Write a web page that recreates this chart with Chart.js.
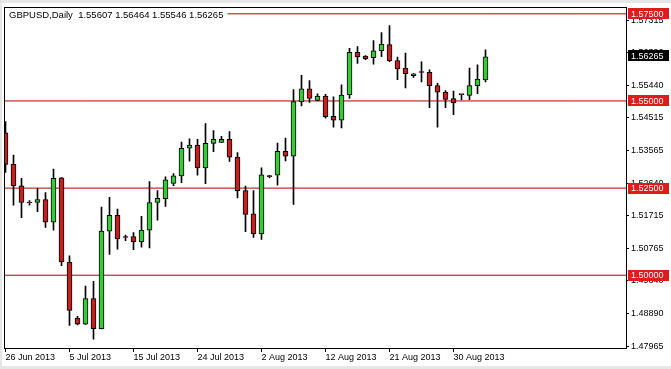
<!DOCTYPE html>
<html>
<head>
<meta charset="utf-8">
<script src="https://cdn.jsdelivr.net/npm/chart.js@4/dist/chart.umd.min.js"></script>
<style>
html,body{margin:0;padding:0;background:#fff;}
canvas{display:block;}
</style>
</head>
<body>
<canvas id="c" width="671" height="369"></canvas>
<script>
// ---- data ----
const symbolTitle = "GBPUSD,Daily";
const dates = ["26 Jun 2013","27 Jun 2013","28 Jun 2013","30 Jun 2013","1 Jul 2013","2 Jul 2013","3 Jul 2013","4 Jul 2013",
  "5 Jul 2013","7 Jul 2013","8 Jul 2013","9 Jul 2013","10 Jul 2013","11 Jul 2013","12 Jul 2013","14 Jul 2013",
  "15 Jul 2013","16 Jul 2013","17 Jul 2013","18 Jul 2013","19 Jul 2013","21 Jul 2013","22 Jul 2013","23 Jul 2013",
  "24 Jul 2013","25 Jul 2013","26 Jul 2013","28 Jul 2013","29 Jul 2013","30 Jul 2013","31 Jul 2013","1 Aug 2013",
  "2 Aug 2013","4 Aug 2013","5 Aug 2013","6 Aug 2013","7 Aug 2013","8 Aug 2013","9 Aug 2013","11 Aug 2013",
  "12 Aug 2013","13 Aug 2013","14 Aug 2013","15 Aug 2013","16 Aug 2013","18 Aug 2013","19 Aug 2013","20 Aug 2013",
  "21 Aug 2013","22 Aug 2013","23 Aug 2013","25 Aug 2013","26 Aug 2013","27 Aug 2013","28 Aug 2013","29 Aug 2013",
  "30 Aug 2013","1 Sep 2013","2 Sep 2013","3 Sep 2013","4 Sep 2013"];
const opens = [1.54084,1.53190,1.52568,1.52080,1.52087,1.52172,1.51522,1.52794,1.50379,1.48767,
  1.48597,1.49333,1.48467,1.51267,1.51720,1.51090,1.51106,1.50956,1.51295,1.52087,
  1.52200,1.52633,1.52851,1.53643,1.53736,1.53077,1.53784,1.53812,1.53897,1.53388,
  1.52427,1.51765,1.51182,1.52835,1.52868,1.53558,1.53416,1.54972,1.55348,1.55017,
  1.55141,1.54556,1.54451,1.55170,1.56394,1.56290,1.56244,1.56442,1.56620,1.56160,
  1.55942,1.55724,1.55823,1.55820,1.55441,1.55255,1.55065,1.55187,1.55158,1.55441,1.55607];
const highs = [1.54406,1.53445,1.52783,1.52144,1.52483,1.52370,1.53049,1.52803,1.50560,1.48824,
  1.49692,1.49825,1.51954,1.52237,1.51898,1.51154,1.51227,1.51691,1.52690,1.52427,
  1.52822,1.52916,1.53821,1.53914,1.53897,1.54350,1.54152,1.53982,1.54123,1.53518,
  1.52557,1.52427,1.53085,1.52868,1.53792,1.53934,1.55328,1.55735,1.55583,1.55206,
  1.55187,1.55122,1.55461,1.56507,1.56564,1.56305,1.56734,1.56960,1.57166,1.56261,
  1.56374,1.55785,1.56120,1.55894,1.55509,1.55300,1.55283,1.55190,1.55942,1.56035,1.56464];
const lows = [1.52952,1.52011,1.51652,1.52011,1.51821,1.51369,1.51295,1.50277,1.48561,1.48575,
  1.48590,1.48165,1.48460,1.50597,1.50747,1.50993,1.50730,1.50803,1.50786,1.51578,
  1.51974,1.52568,1.52653,1.53275,1.52868,1.52624,1.53546,1.53800,1.53264,1.52217,
  1.51247,1.51086,1.51029,1.52794,1.52585,1.53283,1.52031,1.54859,1.54960,1.55000,
  1.54508,1.54245,1.54225,1.55074,1.56075,1.56185,1.56055,1.56273,1.56131,1.55611,
  1.55376,1.55679,1.55546,1.54811,1.54245,1.54811,1.54604,1.55037,1.55037,1.55206,1.55546];
const closes = [1.53179,1.52568,1.52087,1.52072,1.52172,1.51522,1.52783,1.50379,1.48993,1.48597,
  1.49333,1.48467,1.51267,1.51720,1.51041,1.51083,1.50956,1.51295,1.52087,1.52209,
  1.52738,1.52851,1.53643,1.53736,1.53077,1.53784,1.53897,1.53897,1.53388,1.52427,
  1.51748,1.51182,1.52879,1.52828,1.53558,1.53416,1.54980,1.55348,1.55074,1.55141,
  1.54548,1.54451,1.55170,1.56394,1.56261,1.56205,1.56442,1.56629,1.56148,1.55922,
  1.55781,1.55781,1.55817,1.55441,1.55255,1.55045,1.54943,1.55180,1.55441,1.55631,1.56265];
const xTickIndex = [0,8,16,24,32,40,48,56];
const yTickValues = [1.47965,1.48890,1.49840,1.50765,1.51715,1.52640,1.53565,1.54515,1.55440,1.56390,1.57315];
const levels = [1.57500,1.55000,1.52500,1.50000];

// ---- view settings ----
const X_MIN = -0.1875, X_MAX = 77.5625;
const Y_MIN = 1.479119, Y_MAX = 1.576847;
const UP = '#33cc33', DOWN = '#c81e1e', LEVEL = '#b40000';
const FONT = '"Liberation Sans", Arial, sans-serif';

const last = closes.length - 1;
const bodyData = dates.map((d, i) => ({x: i, y: [opens[i], closes[i]]}));
const wickData = dates.map((d, i) => ({x: i, y: [lows[i], highs[i]]}));
const bodyColors = dates.map((d, i) => closes[i] > opens[i] ? UP : (closes[i] < opens[i] ? DOWN : '#000'));

const levelSets = levels.map(v => ({
  type: 'line',
  data: [{x: X_MIN, y: v}, {x: X_MAX, y: v}],
  borderColor: LEVEL, borderWidth: 1, pointRadius: 0, fill: false, order: 3
}));

Chart.defaults.font.family = FONT;
Chart.defaults.font.size = 9;
Chart.defaults.color = '#000';

const bgPlugin = {
  id: 'bg',
  beforeDraw(chart) {
    const ctx = chart.ctx;
    ctx.save();
    ctx.fillStyle = '#e6e6e6';
    ctx.fillRect(0, 0, chart.width, chart.height);
    ctx.fillStyle = '#fff';
    ctx.fillRect(2, 3, chart.width - 2, chart.height - 6);
    ctx.restore();
  }
};

const framePlugin = {
  id: 'frame',
  afterDatasetsDraw(chart) {
    const ctx = chart.ctx, a = chart.chartArea;
    ctx.save();
    const title = symbolTitle + '  ' + [opens[last], highs[last], lows[last], closes[last]].map(v => v.toFixed(5)).join(' ');
    ctx.font = '9.5px ' + FONT;
    const w = ctx.measureText(title).width;
    ctx.fillStyle = '#fff';
    ctx.fillRect(a.left + 1, a.top + 1, w + 8, 14);
    ctx.fillStyle = '#000';
    ctx.textBaseline = 'middle';
    ctx.textAlign = 'left';
    ctx.fillText(title, a.left + 5, a.top + 8);
    ctx.strokeStyle = '#000';
    ctx.lineWidth = 1;
    ctx.strokeRect(Math.round(a.left) + 0.5, Math.round(a.top) + 0.5,
      Math.round(a.right - a.left), Math.round(a.bottom - a.top));
    ctx.restore();
  },
  afterDraw(chart) {
    const ctx = chart.ctx, ys = chart.scales.y, a = chart.chartArea;
    ctx.save();
    ctx.font = '9px ' + FONT;
    ctx.textBaseline = 'middle';
    ctx.textAlign = 'left';
    const box = (v, color, dy) => {
      const y = ys.getPixelForValue(v) + dy;
      ctx.fillStyle = color;
      ctx.fillRect(Math.round(a.right) + 2, Math.round(y - 5.5), 41, 11);
      ctx.fillStyle = '#fff';
      ctx.fillText(v.toFixed(5), Math.round(a.right) + 5, y + 0.5);
    };
    levels.forEach(v => box(v, '#e01b1b', 0));
    box(closes[last], '#000', -1);
    ctx.restore();
  }
};

new Chart(document.getElementById('c'), {
  type: 'bar',
  data: {
    datasets: [
      {
        label: 'body', data: bodyData, backgroundColor: bodyColors,
        borderColor: '#000', borderWidth: 1, borderSkipped: false,
        barThickness: 5, minBarLength: 1, grouped: false, order: 0
      },
      {
        label: 'wick', data: wickData, backgroundColor: '#000',
        borderWidth: 0, barThickness: 1, minBarLength: 1, grouped: false, order: 1
      },
      ...levelSets
    ]
  },
  plugins: [bgPlugin, framePlugin],
  options: {
    responsive: false,
    animation: false,
    devicePixelRatio: 1,
    layout: {padding: {left: 4, top: 4, right: 0, bottom: 0}},
    plugins: {legend: {display: false}, tooltip: {enabled: false}, title: {display: false}},
    scales: {
      x: {
        type: 'linear', min: X_MIN, max: X_MAX, offset: false,
        border: {display: false},
        grid: {drawOnChartArea: false, drawTicks: true, tickLength: 4, color: '#000', offset: false},
        afterBuildTicks: s => { s.ticks = xTickIndex.map(v => ({value: v})); },
        afterFit: s => { s.height = 21; },
        ticks: {
          autoSkip: false, maxRotation: 0, minRotation: 0, align: 'start', padding: 0,
          color: '#000', font: {size: 9},
          callback: v => dates[v] || ''
        }
      },
      y: {
        type: 'linear', position: 'right', min: Y_MIN, max: Y_MAX,
        border: {display: false},
        grid: {drawOnChartArea: false, drawTicks: true, tickLength: 3, color: '#000'},
        afterBuildTicks: s => { s.ticks = yTickValues.map(v => ({value: v})); },
        afterFit: s => { s.width = 45; },
        ticks: {
          autoSkip: false, padding: 2, color: '#000', font: {size: 9},
          callback: v => Number(v).toFixed(5)
        }
      }
    }
  }
});
</script>
</body>
</html>
